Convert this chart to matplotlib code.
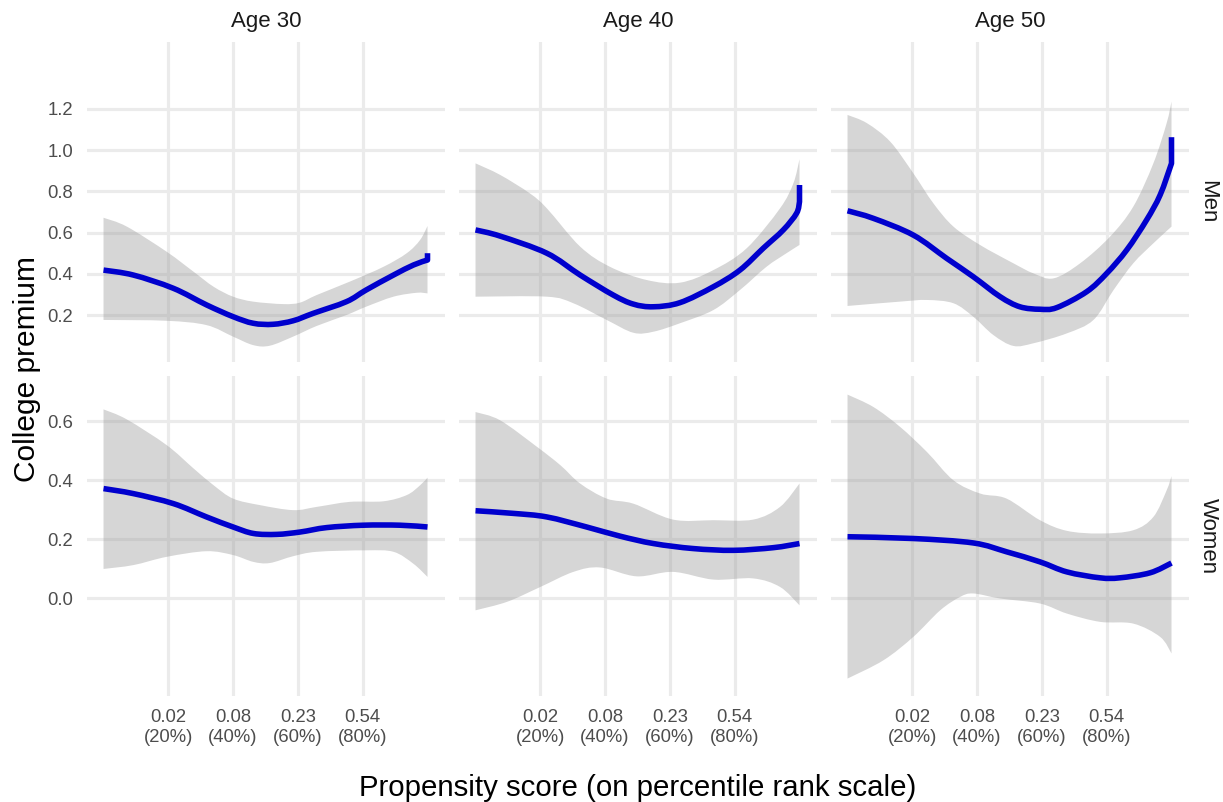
import matplotlib
matplotlib.use("Agg")
import matplotlib.pyplot as plt
from matplotlib.path import Path
from matplotlib.patches import PathPatch

plt.rcParams['font.family'] = ['Liberation Sans', 'DejaVu Sans']

# ---------------- data (x on percentile-rank scale 0..1) ----------------
columns = ["Age 30", "Age 40", "Age 50"]
rows = ["Men", "Women"]
x_breaks = [0.2, 0.4, 0.6, 0.8]
x_labels = ["0.02\n(20%)", "0.08\n(40%)", "0.23\n(60%)", "0.54\n(80%)"]
men_y_breaks = [0.2, 0.4, 0.6, 0.8, 1.0, 1.2]
women_y_breaks = [0.0, 0.2, 0.4, 0.6]

# Men, Age 30
men30_line_x = [0.0, 0.092, 0.215, 0.318, 0.40, 0.462, 0.523, 0.585, 0.647, 0.75, 0.81, 0.895, 0.957, 1.0, 1.0]
men30_line_y = [0.418, 0.394, 0.33, 0.249, 0.192, 0.160, 0.155, 0.172, 0.208, 0.265, 0.321, 0.394, 0.443, 0.467, 0.50]
men30_up_x = [0.0, 0.072, 0.195, 0.278, 0.34, 0.40, 0.462, 0.555, 0.606, 0.658, 0.76, 0.864, 0.936, 0.977, 1.0]
men30_up_y = [0.672, 0.629, 0.507, 0.41, 0.337, 0.289, 0.265, 0.253, 0.26, 0.297, 0.362, 0.434, 0.50, 0.564, 0.632]
men30_lo_x = [0.0, 0.195, 0.318, 0.40, 0.462, 0.513, 0.585, 0.658, 0.75, 0.81, 0.895, 0.967, 1.0]
men30_lo_y = [0.176, 0.172, 0.151, 0.095, 0.054, 0.051, 0.095, 0.147, 0.20, 0.24, 0.289, 0.308, 0.305]

# Men, Age 40
men40_line_x = [0.0, 0.076, 0.22, 0.323, 0.425, 0.487, 0.549, 0.631, 0.734, 0.816, 0.888, 0.95, 0.991, 1.0, 1.0]
men40_line_y = [0.613, 0.583, 0.50, 0.394, 0.297, 0.253, 0.24, 0.26, 0.337, 0.418, 0.524, 0.613, 0.694, 0.75, 0.831]
men40_up_x = [0.0, 0.076, 0.168, 0.22, 0.323, 0.415, 0.528, 0.631, 0.734, 0.837, 0.94, 0.981, 1.0]
men40_up_y = [0.936, 0.88, 0.79, 0.718, 0.532, 0.434, 0.37, 0.357, 0.418, 0.524, 0.718, 0.839, 0.956]
men40_lo_x = [0.0, 0.22, 0.302, 0.405, 0.487, 0.549, 0.631, 0.734, 0.816, 0.898, 0.96, 1.0]
men40_lo_y = [0.289, 0.289, 0.257, 0.176, 0.114, 0.119, 0.16, 0.224, 0.321, 0.434, 0.50, 0.54]

# Men, Age 50
men50_line_x = [0.0, 0.08, 0.203, 0.306, 0.388, 0.471, 0.532, 0.594, 0.646, 0.738, 0.80, 0.862, 0.923, 0.965, 1.0, 1.0]
men50_line_y = [0.706, 0.669, 0.588, 0.475, 0.386, 0.289, 0.24, 0.228, 0.236, 0.313, 0.402, 0.516, 0.661, 0.783, 0.936, 1.063]
men50_up_x = [0.0, 0.06, 0.132, 0.203, 0.265, 0.327, 0.409, 0.512, 0.574, 0.636, 0.718, 0.81, 0.882, 0.944, 0.985, 1.0]
men50_up_y = [1.171, 1.131, 1.041, 0.888, 0.742, 0.629, 0.54, 0.451, 0.402, 0.378, 0.451, 0.58, 0.726, 0.936, 1.131, 1.236]
men50_lo_x = [0.0, 0.162, 0.245, 0.327, 0.388, 0.45, 0.512, 0.574, 0.677, 0.759, 0.821, 0.882, 0.944, 1.0]
men50_lo_y = [0.244, 0.265, 0.273, 0.257, 0.192, 0.103, 0.05, 0.063, 0.111, 0.176, 0.321, 0.451, 0.548, 0.629]

# Women, Age 30
women30_line_x = [0.0, 0.092, 0.216, 0.318, 0.40, 0.463, 0.535, 0.607, 0.689, 0.802, 0.915, 1.0]
women30_line_y = [0.372, 0.355, 0.321, 0.276, 0.242, 0.22, 0.217, 0.225, 0.24, 0.248, 0.248, 0.242]
women30_up_x = [0.0, 0.072, 0.195, 0.278, 0.34, 0.40, 0.483, 0.586, 0.658, 0.76, 0.864, 0.936, 0.977, 1.0]
women30_up_y = [0.64, 0.606, 0.519, 0.44, 0.383, 0.338, 0.316, 0.299, 0.31, 0.327, 0.329, 0.35, 0.383, 0.409]
women30_lo_x = [0.0, 0.092, 0.195, 0.318, 0.40, 0.462, 0.513, 0.585, 0.658, 0.81, 0.895, 0.956, 1.0]
women30_lo_y = [0.10, 0.113, 0.141, 0.16, 0.147, 0.124, 0.12, 0.143, 0.158, 0.163, 0.158, 0.118, 0.073]

# Women, Age 40
women40_line_x = [0.0, 0.117, 0.22, 0.343, 0.446, 0.549, 0.672, 0.796, 0.919, 1.0]
women40_line_y = [0.297, 0.288, 0.276, 0.242, 0.211, 0.186, 0.169, 0.163, 0.172, 0.186]
women40_up_x = [0.0, 0.076, 0.19, 0.262, 0.323, 0.405, 0.487, 0.61, 0.734, 0.857, 0.94, 1.0]
women40_up_y = [0.631, 0.603, 0.513, 0.451, 0.389, 0.338, 0.321, 0.267, 0.265, 0.267, 0.31, 0.389]
women40_lo_x = [0.0, 0.098, 0.2, 0.302, 0.384, 0.497, 0.61, 0.734, 0.857, 0.94, 1.0]
women40_lo_y = [-0.04, -0.011, 0.039, 0.09, 0.105, 0.075, 0.09, 0.064, 0.068, 0.039, -0.023]

# Women, Age 50
women50_line_x = [0.0, 0.203, 0.388, 0.491, 0.594, 0.677, 0.779, 0.841, 0.934, 1.0]
women50_line_y = [0.209, 0.203, 0.188, 0.158, 0.124, 0.09, 0.07, 0.07, 0.087, 0.12]
women50_up_x = [0.0, 0.08, 0.162, 0.245, 0.327, 0.41, 0.491, 0.594, 0.677, 0.779, 0.882, 0.944, 0.985, 1.0]
women50_up_y = [0.69, 0.648, 0.581, 0.496, 0.40, 0.355, 0.338, 0.265, 0.229, 0.22, 0.231, 0.276, 0.366, 0.414]
women50_lo_x = [0.0, 0.111, 0.203, 0.286, 0.347, 0.388, 0.471, 0.594, 0.677, 0.779, 0.882, 0.965, 1.0]
women50_lo_y = [-0.271, -0.209, -0.13, -0.04, 0.005, 0.017, 0.0, -0.017, -0.051, -0.079, -0.085, -0.13, -0.186]

panels = [
    [(men30_line_x, men30_line_y, men30_up_x, men30_up_y, men30_lo_x, men30_lo_y),
     (men40_line_x, men40_line_y, men40_up_x, men40_up_y, men40_lo_x, men40_lo_y),
     (men50_line_x, men50_line_y, men50_up_x, men50_up_y, men50_lo_x, men50_lo_y)],
    [(women30_line_x, women30_line_y, women30_up_x, women30_up_y, women30_lo_x, women30_lo_y),
     (women40_line_x, women40_line_y, women40_up_x, women40_up_y, women40_lo_x, women40_lo_y),
     (women50_line_x, women50_line_y, women50_up_x, women50_up_y, women50_lo_x, women50_lo_y)],
]


def smooth_segments(xs, ys):
    """Catmull-Rom rendering of the read points as cubic Bezier path pieces."""
    pts = list(zip(xs, ys))
    # final vertical step (duplicate x) is drawn straight
    tail = []
    if len(pts) > 2 and pts[-1][0] == pts[-2][0]:
        tail = [pts[-1]]
        pts = pts[:-1]
    verts, codes = [pts[0]], [Path.MOVETO]
    n = len(pts)
    for i in range(n - 1):
        p0 = pts[i - 1] if i > 0 else pts[i]
        p1 = pts[i]
        p2 = pts[i + 1]
        p3 = pts[i + 2] if i + 2 < n else pts[i + 1]
        c1 = (p1[0] + (p2[0] - p0[0]) / 6, p1[1] + (p2[1] - p0[1]) / 6)
        c2 = (p2[0] - (p3[0] - p1[0]) / 6, p2[1] - (p3[1] - p1[1]) / 6)
        verts += [c1, c2, p2]
        codes += [Path.CURVE4] * 3
    for t in tail:
        verts.append(t)
        codes.append(Path.LINETO)
    return verts, codes


# ---------------- layout ----------------
W, H = 1223, 802
fig = plt.figure(figsize=(W / 100, H / 100), dpi=100)
fig.patch.set_facecolor("white")

col_px = [(87, 445), (459, 817), (831, 1189)]
row_px = [(42, 362), (376, 696)]
row_ylim = [(-0.028, 1.525), (-0.330, 0.753)]
row_breaks = [men_y_breaks, women_y_breaks]

grid_col = "#EBEBEB"
tick_col = "#4D4D4D"
strip_col = "#1A1A1A"

for r in range(2):
    for c in range(3):
        x0, x1 = col_px[c]
        y0, y1 = row_px[r]
        ax = fig.add_axes([x0 / W, 1 - y1 / H, (x1 - x0) / W, (y1 - y0) / H])
        ax.set_facecolor("none")
        for s in ax.spines.values():
            s.set_visible(False)
        ax.set_xlim(-0.051, 1.054)
        ax.set_ylim(*row_ylim[r])
        ax.set_xticks(x_breaks)
        ax.set_yticks(row_breaks[r])
        ax.grid(True, color=grid_col, linewidth=2.3, zorder=0)
        ax.set_axisbelow(True)
        ax.tick_params(length=0, colors=tick_col, labelsize=13.3)
        if c == 0:
            ax.set_yticklabels([f"{v:.1f}" for v in row_breaks[r]])
            ax.tick_params(axis="y", pad=10)
        else:
            ax.set_yticklabels([])
        if r == 1:
            ax.set_xticklabels(x_labels, linespacing=1.3)
            ax.tick_params(axis="x", pad=9)
        else:
            ax.set_xticklabels([])

        lx, ly, ux, uy, dx, dy = panels[r][c]
        # ribbon: upper edge left->right, lower edge right->left
        uv, uc = smooth_segments(ux, uy)
        dv, dc = smooth_segments(list(dx)[::-1], list(dy)[::-1])
        dc = [Path.LINETO] + dc[1:]
        rv = uv + dv + [uv[0]]
        rc = uc + dc + [Path.CLOSEPOLY]
        ax.add_patch(PathPatch(Path(rv, rc), facecolor="#999999", alpha=0.4,
                               edgecolor="none", zorder=2))
        # fitted line
        lv, lc = smooth_segments(lx, ly)
        ax.add_patch(PathPatch(Path(lv, lc), facecolor="none", edgecolor="#0000CD",
                               linewidth=4.0, capstyle="butt", joinstyle="round",
                               zorder=3))

# strip labels
for c, name in enumerate(columns):
    xm = (col_px[c][0] + col_px[c][1]) / 2
    fig.text(xm / W, 1 - 22 / H, name, ha="center", va="center",
             fontsize=16, color=strip_col)
for r, name in enumerate(rows):
    ym = (row_px[r][0] + row_px[r][1]) / 2
    fig.text(1208 / W, 1 - ym / H, name, ha="center", va="center",
             rotation=270, fontsize=16, color=strip_col)

# axis titles
fig.text(638 / W, 1 - 788 / H, "Propensity score (on percentile rank scale)",
         ha="center", va="center", fontsize=21.2, color="black")
fig.text(27 / W, 1 - 369 / H, "College premium", ha="center", va="center",
         rotation=90, fontsize=21.5, color="black")

fig.savefig("out.png", dpi=100, facecolor="white")
